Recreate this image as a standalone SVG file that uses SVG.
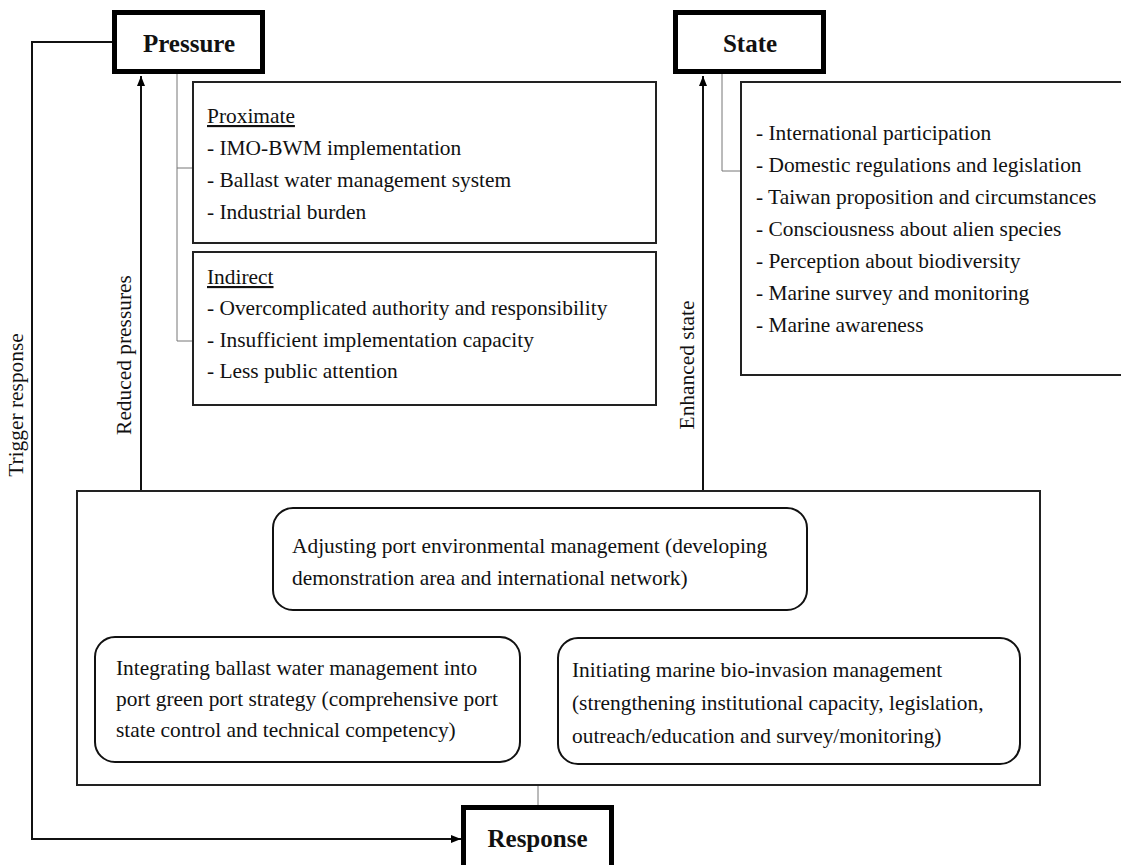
<svg xmlns="http://www.w3.org/2000/svg" width="1121" height="865" viewBox="0 0 1121 865">
<defs>
<marker id="ah" viewBox="0 0 10 10" refX="10" refY="5" markerWidth="10" markerHeight="10" markerUnits="userSpaceOnUse" orient="auto">
<path d="M0,1 L10,5 L0,9 z" fill="#000"/>
</marker>
<style>
text{font-family:"Liberation Serif","Times New Roman",serif;fill:#111;}
.t{font-size:21.4px;}
.h{font-size:25px;font-weight:bold;}
.main{fill:#fff;stroke:#000;stroke-width:5;}
.box{fill:#fff;stroke:#222;stroke-width:2;}
.rbox{fill:#fff;stroke:#111;stroke-width:2;}
.thin{fill:none;stroke:#777;stroke-width:1;}
.con{fill:none;stroke:#111;stroke-width:2;}
</style>
</defs>
<rect width="1121" height="865" fill="#fff"/>

<g id="connectors">
<path class="con" d="M112,42 H32 V839 H461" marker-end="url(#ah)"/>
<path class="con" d="M141,491 V76" marker-end="url(#ah)"/>
<path class="con" d="M703,491 V76" marker-end="url(#ah)"/>
<path class="con" d="M308,637 L540,609" marker-end="url(#ah)"/>
<path class="con" d="M540,609 L787,637" marker-end="url(#ah)"/>
<path class="thin" d="M177,74 V341 H193 M177,168 H193"/>
<path class="thin" d="M722,74 V171 H741"/>
<path class="thin" d="M538,785 V806"/>
<text class="t" transform="translate(23,405) rotate(-90)" text-anchor="middle">Trigger response</text>
<text class="t" transform="translate(131,355) rotate(-90)" text-anchor="middle">Reduced pressures</text>
<text class="t" transform="translate(694,365) rotate(-90)" text-anchor="middle">Enhanced state</text>
</g>

<g id="pressure">
<rect class="main" x="114.5" y="12.5" width="148" height="59"/>
<text class="h" x="189" y="52" text-anchor="middle">Pressure</text>
</g>

<g id="state">
<rect class="main" x="675.5" y="12.5" width="148" height="59"/>
<text class="h" x="750" y="52" text-anchor="middle">State</text>
</g>

<g id="response">
<rect class="main" x="463.5" y="807.5" width="148" height="70"/>
<text class="h" x="537.5" y="847" text-anchor="middle">Response</text>
</g>

<g id="proximate">
<rect class="box" x="193" y="82" width="463" height="161"/>
<text class="t" x="207" y="123" text-decoration="underline">Proximate</text>
<text class="t" x="207" y="155">- IMO-BWM implementation</text>
<text class="t" x="207" y="187">- Ballast water management system</text>
<text class="t" x="207" y="219">- Industrial burden</text>
</g>

<g id="indirect">
<rect class="box" x="193" y="252" width="463" height="153"/>
<text class="t" x="207" y="284" text-decoration="underline">Indirect</text>
<text class="t" x="207" y="315">- Overcomplicated authority and responsibility</text>
<text class="t" x="207" y="347">- Insufficient implementation capacity</text>
<text class="t" x="207" y="378">- Less public attention</text>
</g>

<g id="state-list">
<path class="box" d="M1125,82 H741 V375 H1125"/>
<text class="t" x="756" y="140">- International participation</text>
<text class="t" x="756" y="172">- Domestic regulations and legislation</text>
<text class="t" x="756" y="204">- Taiwan proposition and circumstances</text>
<text class="t" x="756" y="236">- Consciousness about alien species</text>
<text class="t" x="756" y="268">- Perception about biodiversity</text>
<text class="t" x="756" y="300">- Marine survey and monitoring</text>
<text class="t" x="756" y="332">- Marine awareness</text>
</g>

<g id="response-frame">
<rect class="box" x="77" y="491" width="963" height="294"/>
</g>

<g id="adjusting">
<rect class="rbox" x="273" y="508" width="534" height="102" rx="20" ry="20"/>
<text class="t" x="292" y="553">Adjusting port environmental management (developing</text>
<text class="t" x="292" y="585">demonstration area and international network)</text>
</g>

<g id="integrating">
<rect class="rbox" x="95" y="637" width="425" height="125" rx="20" ry="20"/>
<text class="t" x="116" y="675">Integrating ballast water management into</text>
<text class="t" x="116" y="706">port green port strategy (comprehensive port</text>
<text class="t" x="116" y="737">state control and technical competency)</text>
</g>

<g id="initiating">
<rect class="rbox" x="558" y="638" width="462" height="126" rx="20" ry="20"/>
<text class="t" x="572" y="677">Initiating marine bio-invasion management</text>
<text class="t" x="572" y="710">(strengthening institutional capacity, legislation,</text>
<text class="t" x="572" y="743">outreach/education and survey/monitoring)</text>
</g>
</svg>
